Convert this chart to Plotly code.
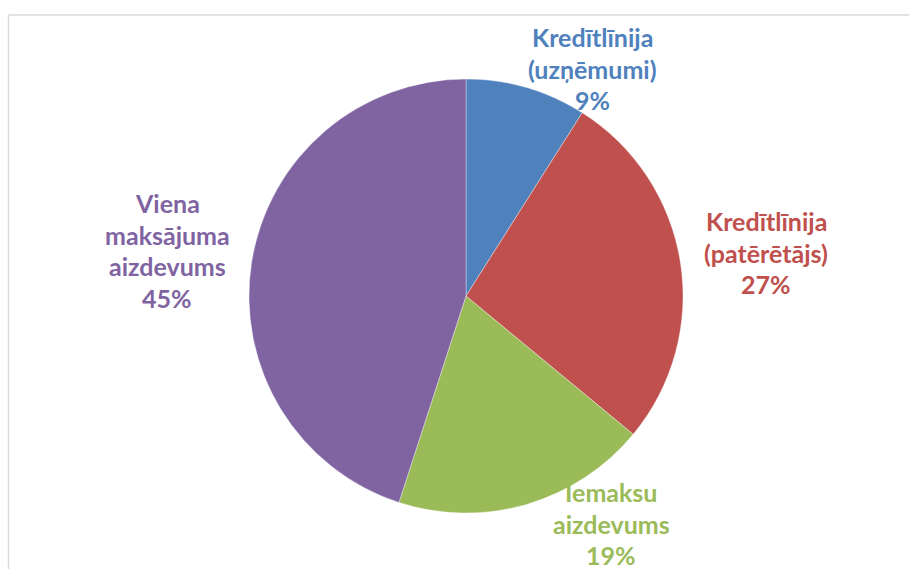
import plotly.graph_objects as go

labels = ["Kredītlīnija (uzņēmumi)", "Kredītlīnija (patērētājs)", "Iemaksu aizdevums", "Viena maksājuma aizdevums"]
values = [9, 27, 19, 45]
colors = ["#4F81BD", "#C0504D", "#9BBB59", "#8064A2"]
label_lines = [
    ["Kredītlīnija", "(uzņēmumi)", "9%"],
    ["Kredītlīnija", "(patērētājs)", "27%"],
    ["Iemaksu", "aizdevums", "19%"],
    ["Viena", "maksājuma", "aizdevums", "45%"],
]

W, H = 909, 569
# label block anchors (px): center x, first-line center y
label_pos = [(592, 37), (766, 221), (611, 492), (167, 203)]
line_gap = 31.7

fig = go.Figure(go.Pie(
    labels=labels, values=values, sort=False, direction="clockwise", rotation=0,
    marker=dict(colors=colors, line=dict(color="rgba(255,255,255,0.6)", width=0.6)),
    textinfo="none", hoverinfo="label+percent", showlegend=False,
    domain=dict(x=[249 / W, 683 / W], y=[1 - 513 / H, 1 - 79 / H]),
))

annotations = []
for lines, (cx, cy), col in zip(label_lines, label_pos, colors):
    for i, t in enumerate(lines):
        annotations.append(dict(
            text=t, x=cx / W, y=1 - (cy + i * line_gap) / H, xref="paper", yref="paper",
            showarrow=False, xanchor="center", yanchor="middle",
            font=dict(family="Lato", size=25, color=col, weight="bold"),
        ))

shapes = [
    dict(type="line", xref="paper", yref="paper", x0=8.5 / W, x1=8.5 / W, y0=0, y1=1 - 15 / H,
         line=dict(color="#D9D9D9", width=1.5)),
    dict(type="line", xref="paper", yref="paper", x0=8.5 / W, x1=1, y0=1 - 15 / H, y1=1 - 15 / H,
         line=dict(color="#D9D9D9", width=1.5)),
]

fig.update_layout(
    width=W, height=H, margin=dict(l=0, r=0, t=0, b=0),
    paper_bgcolor="white", plot_bgcolor="white",
    annotations=annotations, shapes=shapes,
)
fig.write_html("out.html")
